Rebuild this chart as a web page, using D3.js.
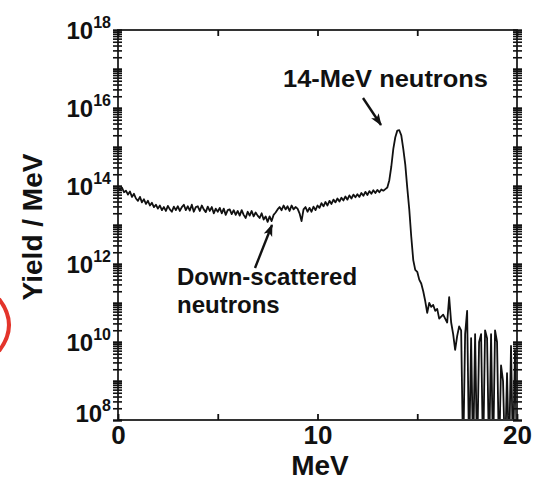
<!DOCTYPE html>
<html>
<head>
<meta charset="utf-8">
<script src="https://cdn.jsdelivr.net/npm/d3@7"></script>
<style>
  html, body { margin: 0; padding: 0; background: #fff; }
  svg { display: block; font-family: "Liberation Sans", Arial, sans-serif; font-weight: bold; }
</style>
</head>
<body>
<script>
// neutron energy grid (MeV)
const energyMeV = [
  0.0, 0.1, 0.2, 0.3, 0.4, 0.5, 0.6, 0.7, 0.8, 0.9,
  1.0, 1.1, 1.2, 1.3, 1.4, 1.5, 1.6, 1.7, 1.8, 1.9,
  2.0, 2.1, 2.2, 2.3, 2.4, 2.5, 2.6, 2.7, 2.8, 2.9,
  3.0, 3.1, 3.2, 3.3, 3.4, 3.5, 3.6, 3.7, 3.8, 3.9,
  4.0, 4.1, 4.2, 4.3, 4.4, 4.5, 4.6, 4.7, 4.8, 4.9,
  5.0, 5.1, 5.2, 5.3, 5.4, 5.5, 5.6, 5.7, 5.8, 5.9,
  6.0, 6.1, 6.2, 6.3, 6.4, 6.5, 6.6, 6.7, 6.8, 6.9,
  7.0, 7.1, 7.2, 7.3, 7.4, 7.5, 7.6, 7.7, 7.8, 7.9,
  8.0, 8.1, 8.2, 8.3, 8.4, 8.5, 8.6, 8.7, 8.8, 8.9,
  9.0, 9.1, 9.2, 9.3, 9.4, 9.5, 9.6, 9.7, 9.8, 9.9,
  10.0, 10.1, 10.2, 10.3, 10.4, 10.5, 10.6, 10.7, 10.8, 10.9,
  11.0, 11.1, 11.2, 11.3, 11.4, 11.5, 11.6, 11.7, 11.8, 11.9,
  12.0, 12.1, 12.2, 12.3, 12.4, 12.5, 12.6, 12.7, 12.8, 12.9,
  13.0, 13.1, 13.2, 13.3, 13.4, 13.5, 13.6, 13.7, 13.8, 13.9,
  14.0, 14.1, 14.2, 14.3, 14.4, 14.5, 14.6, 14.7, 14.8, 14.9,
  15.0, 15.1, 15.2, 15.3, 15.4, 15.5, 15.6, 15.7, 15.8, 15.9,
  16.0, 16.1, 16.2, 16.3, 16.4, 16.5, 16.6, 16.7, 16.8, 16.9,
  17.0, 17.1, 17.2, 17.3, 17.4, 17.5, 17.6, 17.7, 17.8, 17.9,
  18.0, 18.1, 18.2, 18.3, 18.4, 18.5, 18.6, 18.7, 18.8, 18.9,
  19.0, 19.1, 19.2, 19.3, 19.4, 19.5, 19.6, 19.7, 19.8, 19.9, 20.0
];

// log10(yield / MeV); 7 = below the 1e8 floor
const log10Yield = [
  13.95, 13.90, 13.96, 13.84, 13.88, 13.78, 13.86, 13.72, 13.80, 13.68,
  13.62, 13.72, 13.58, 13.66, 13.54, 13.62, 13.50, 13.57, 13.46, 13.52,
  13.42, 13.50, 13.38, 13.46, 13.36, 13.49, 13.40, 13.34, 13.47, 13.38,
  13.48, 13.36, 13.46, 13.52, 13.38, 13.48, 13.37, 13.52, 13.34, 13.46,
  13.48, 13.36, 13.50, 13.40, 13.33, 13.47, 13.36, 13.46, 13.30, 13.42,
  13.34, 13.44, 13.30, 13.42, 13.26, 13.38, 13.40, 13.28, 13.38, 13.26,
  13.36, 13.24, 13.38, 13.26, 13.18, 13.34, 13.24, 13.36, 13.22, 13.32,
  13.24, 13.18, 13.30, 13.14, 13.22, 13.08, 13.22, 13.10, 13.26, 13.32,
  13.40, 13.46, 13.38, 13.50, 13.40, 13.48, 13.36, 13.50, 13.40, 13.46,
  13.42, 13.30, 13.10, 13.40, 13.46, 13.34, 13.44, 13.34, 13.47, 13.38,
  13.50, 13.44, 13.56, 13.48, 13.59, 13.50, 13.62, 13.54, 13.65, 13.58,
  13.68, 13.60, 13.70, 13.63, 13.73, 13.65, 13.76, 13.68, 13.78, 13.71,
  13.79, 13.72, 13.82, 13.75, 13.85, 13.77, 13.87, 13.80, 13.89, 13.82,
  13.90, 13.84, 13.91, 13.88, 13.92, 13.96, 14.15, 14.50, 14.95, 15.25,
  15.42, 15.43, 15.30, 14.95, 14.55, 13.95, 13.40, 12.70, 12.10, 11.85,
  11.80, 11.60, 11.50, 11.30, 11.05, 10.75, 11.00, 10.90, 10.95, 10.80,
  10.85, 10.60, 10.65, 10.70, 10.60, 10.50, 11.15, 10.50, 10.20, 9.80,
  10.15, 10.40, 10.30, 7, 10.20, 10.80, 7, 10.10, 7, 10.20,
  7, 10.00, 10.20, 7, 10.30, 10.10, 7, 10.20, 7, 10.30,
  10.00, 7, 9.40, 9.00, 7, 9.20, 7, 9.90, 7, 9.80, 7
];

const xTicks = [0, 5, 10, 15, 20];
const xTickLabels = [0, 10, 20];
const yLabelExponents = [8, 10, 12, 14, 16, 18];

const W = 534, H = 481;
const PLOT_LEFT = 118, PLOT_RIGHT = 517, PLOT_TOP = 30, PLOT_BOTTOM = 420;
const INK = "#111";

const x = d3.scaleLinear().domain([0, 20]).range([PLOT_LEFT, PLOT_RIGHT]);
const y = d3.scaleLog().domain([1e8, 1e18]).range([PLOT_BOTTOM, PLOT_TOP]);

const spectrum = energyMeV.map((e, i) => ({e, v: Math.pow(10, log10Yield[i])}));

const svg = d3.select("body").append("svg")
    .attr("width", W)
    .attr("height", H);

const defs = svg.append("defs");
defs.append("clipPath").attr("id", "plot-clip")
    .append("rect")
    .attr("x", PLOT_LEFT).attr("y", PLOT_TOP)
    .attr("width", PLOT_RIGHT - PLOT_LEFT)
    .attr("height", PLOT_BOTTOM - PLOT_TOP);

defs.append("marker")
    .attr("id", "arrow")
    .attr("viewBox", "0 -5 12 10")
    .attr("refX", 11)
    .attr("markerUnits", "userSpaceOnUse")
    .attr("markerWidth", 12)
    .attr("markerHeight", 10)
    .attr("orient", "auto")
    .append("path")
    .attr("d", "M0,-4.5L12,0L0,4.5L3,0Z")
    .attr("fill", INK);

// spectrum line
svg.append("path")
    .datum(spectrum)
    .attr("clip-path", "url(#plot-clip)")
    .attr("fill", "none")
    .attr("stroke", INK)
    .attr("stroke-width", 1.8)
    .attr("stroke-linejoin", "round")
    .attr("d", d3.line().x(d => x(d.e)).y(d => y(d.v)));

// frame
svg.append("rect")
    .attr("x", PLOT_LEFT).attr("y", PLOT_TOP)
    .attr("width", PLOT_RIGHT - PLOT_LEFT)
    .attr("height", PLOT_BOTTOM - PLOT_TOP)
    .attr("fill", "none")
    .attr("stroke", "#333")
    .attr("stroke-width", 2);

// log ticks, crossing the left and right axes
const allYTicks = y.ticks(20);
const isDecade = v => Math.abs(Math.log10(v) - Math.round(Math.log10(v))) < 1e-6;

function styleYTicks(g, inner, outer) {
    g.select(".domain").remove();
    g.selectAll(".tick line")
        .attr("x1", inner).attr("x2", outer)
        .attr("stroke", INK)
        .attr("stroke-width", d => isDecade(d) ? 2.4 : 1.6);
}

svg.append("g")
    .attr("transform", `translate(${PLOT_LEFT},0)`)
    .call(d3.axisLeft(y).tickValues(allYTicks).tickFormat("").tickSizeOuter(0))
    .call(g => styleYTicks(g, 4, -5));

svg.append("g")
    .attr("transform", `translate(${PLOT_RIGHT},0)`)
    .call(d3.axisRight(y).tickValues(allYTicks).tickFormat("").tickSizeOuter(0))
    .call(g => styleYTicks(g, -4, 5));

// x ticks point inward on top and bottom; only 0, 10, 20 carry labels
svg.append("g")
    .attr("transform", `translate(0,${PLOT_TOP})`)
    .call(d3.axisTop(x).tickValues(xTicks).tickFormat("").tickSize(-6).tickSizeOuter(0))
    .call(g => g.select(".domain").remove())
    .call(g => g.selectAll(".tick line").attr("stroke", INK).attr("stroke-width", 1.8));

svg.append("g")
    .attr("transform", `translate(0,${PLOT_BOTTOM})`)
    .call(d3.axisBottom(x).tickValues(xTicks).tickSize(-6).tickSizeOuter(0).tickPadding(6)
        .tickFormat(d => xTickLabels.includes(d) ? d : ""))
    .call(g => g.select(".domain").remove())
    .call(g => g.selectAll(".tick line").attr("stroke", INK).attr("stroke-width", 1.8))
    .call(g => g.selectAll(".tick text")
        .attr("fill", INK)
        .attr("font-size", 26)
        .attr("font-weight", "bold")
        .attr("font-family", "'Liberation Sans', Arial, sans-serif"));

// y labels: 10^n
const yLabels = svg.append("g")
    .attr("fill", INK)
    .attr("text-anchor", "end")
    .selectAll("text")
    .data(yLabelExponents)
    .join("text")
    .attr("x", 111)
    .attr("y", d => y(Math.pow(10, d)) + (d === 8 ? 2 : 9));
yLabels.append("tspan").attr("font-size", 24).text("10");
yLabels.append("tspan").attr("font-size", 16).attr("dy", -11).text(d => d);

// axis titles
svg.append("text")
    .attr("x", 320).attr("y", 475)
    .attr("text-anchor", "middle")
    .attr("font-size", 28)
    .attr("fill", INK)
    .text("MeV");

svg.append("text")
    .attr("transform", "translate(42,227) rotate(-90)")
    .attr("text-anchor", "middle")
    .attr("font-size", 28)
    .attr("fill", INK)
    .text("Yield / MeV");

// annotations
svg.append("text")
    .attr("x", 283).attr("y", 87)
    .attr("font-size", 24)
    .attr("fill", INK)
    .attr("textLength", 205)
    .attr("lengthAdjust", "spacingAndGlyphs")
    .text("14-MeV neutrons");

svg.append("line")
    .attr("x1", 363).attr("y1", 98)
    .attr("x2", 381).attr("y2", 125)
    .attr("stroke", INK)
    .attr("stroke-width", 2.4)
    .attr("marker-end", "url(#arrow)");

const down = svg.append("text")
    .attr("font-size", 24)
    .attr("fill", INK);
down.append("tspan").attr("x", 177).attr("y", 285).text("Down-scattered");
down.append("tspan").attr("x", 177).attr("y", 313).text("neutrons");

svg.append("line")
    .attr("x1", 255).attr("y1", 268)
    .attr("x2", 272).attr("y2", 225)
    .attr("stroke", INK)
    .attr("stroke-width", 2.4)
    .attr("marker-end", "url(#arrow)");

// red mark cut off at the left edge of the figure
svg.append("path")
    .attr("d", "M-1,299 Q19,325 -1,351")
    .attr("fill", "none")
    .attr("stroke", "#e3342b")
    .attr("stroke-width", 4);
</script>
</body>
</html>
